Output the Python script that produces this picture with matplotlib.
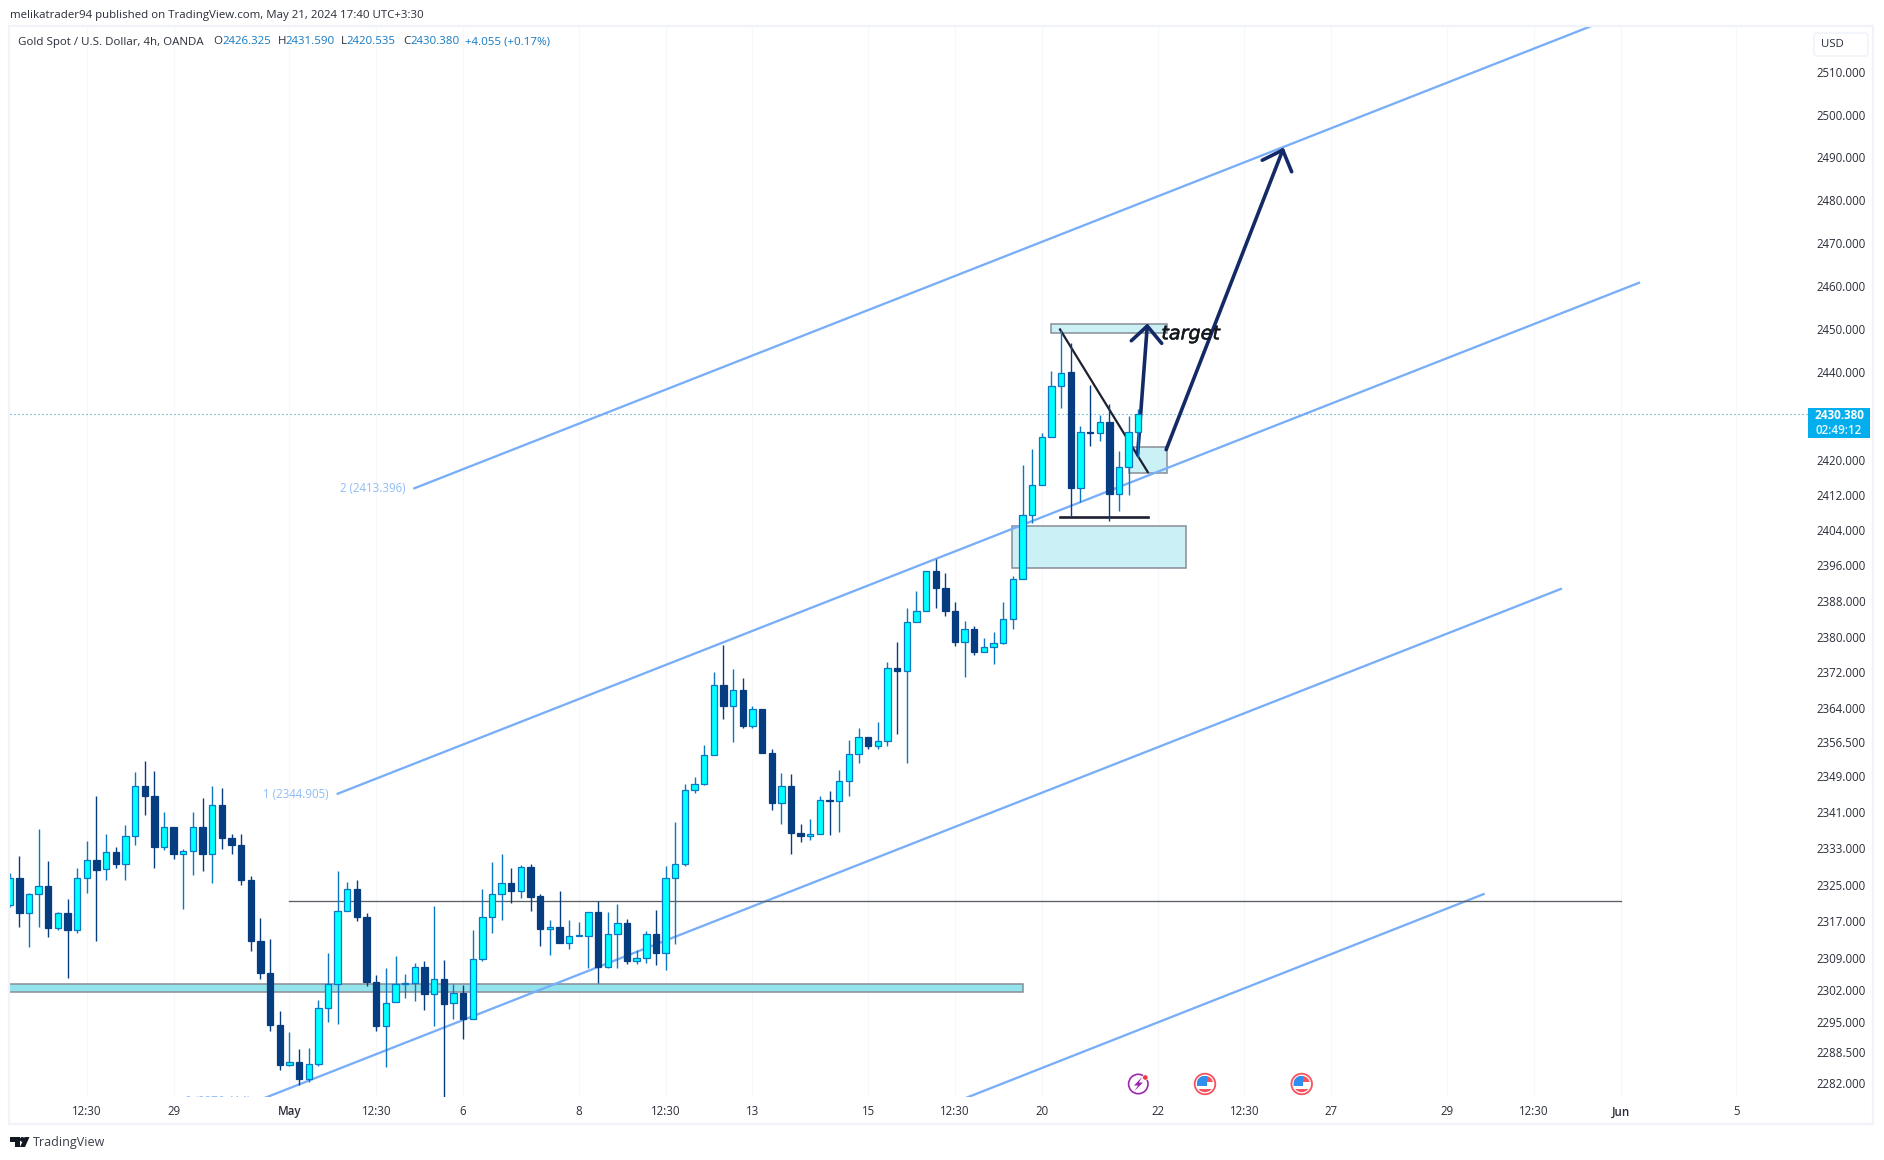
import matplotlib
matplotlib.use("Agg")
import matplotlib.pyplot as plt
import matplotlib.patheffects as pe
from matplotlib.patches import Rectangle, Circle, Polygon, FancyBboxPatch
from matplotlib.ticker import NullLocator

plt.rcParams['font.family'] = ['Open Sans', 'DejaVu Sans']

# ---------- candle data (4h bars, XAUUSD) ----------
opens = [2320.6,2326.4,2318.7,2322.9,2324.7,2315.4,2318.8,2315.0,2326.4,2330.4,
 2328.4,2332.2,2329.4,2335.7,2346.7,2344.5,2333.3,2337.7,2331.7,2332.4,
 2337.7,2331.7,2342.5,2335.3,2333.7,2326.0,2312.7,2305.8,2294.4,2285.7,
 2286.4,2282.7,2286.0,2298.0,2303.3,2319.2,2324.0,2317.9,2303.8,2294.3,
 2299.3,2303.3,2303.5,2307.1,2301.2,2304.5,2299.1,2301.4,2295.8,2308.7,
 2317.9,2323.0,2325.4,2323.6,2328.9,2322.4,2315.3,2315.8,2312.2,2313.7,
 2313.8,2319.0,2307.0,2314.2,2316.6,2308.4,2309.0,2314.2,2310.1,2326.5,
 2329.5,2345.9,2347.2,2353.6,2369.2,2364.4,2368.1,2360.0,2363.9,2354.1,
 2343.0,2346.8,2336.3,2335.6,2336.1,2343.6,2343.4,2347.9,2353.9,2357.6,
 2355.5,2356.7,2373.0,2372.3,2383.3,2385.8,2394.8,2391.0,2385.8,2378.8,
 2381.8,2376.5,2377.7,2378.6,2384.0,2393.0,2407.5,2414.3,2425.2,2436.9,
 2440.0,2413.6,2426.4,2426.2,2428.7,2412.2,2418.4,2426.325]
highs = [2327.5,2331.2,2323.1,2337.1,2330.2,2319.1,2321.8,2328.7,2334.5,2344.6,
 2336.2,2333.2,2338.0,2349.9,2352.3,2350.1,2341.0,2337.7,2332.9,2341.0,
 2344.1,2346.6,2346.3,2336.0,2336.0,2326.8,2317.7,2313.0,2297.4,2293.0,
 2289.3,2289.5,2299.8,2310.1,2328.0,2325.6,2326.1,2318.8,2305.2,2306.7,
 2309.3,2305.4,2307.8,2308.4,2320.4,2308.6,2303.2,2303.0,2315.1,2324.0,
 2330.0,2331.8,2328.7,2329.2,2329.6,2323.0,2317.2,2323.5,2317.2,2316.7,
 2319.0,2321.3,2318.9,2320.8,2317.4,2310.6,2314.9,2319.5,2329.0,2338.7,
 2347.1,2348.8,2355.7,2372.0,2378.2,2372.8,2370.8,2364.4,2363.9,2354.8,
 2349.5,2349.3,2338.2,2339.5,2344.5,2345.7,2350.2,2356.8,2359.5,2357.6,
 2360.8,2374.2,2378.7,2386.5,2390.2,2394.8,2397.4,2394.2,2387.7,2383.6,
 2382.3,2379.6,2381.0,2387.7,2393.7,2418.9,2422.5,2426.2,2440.4,2449.8,
 2446.8,2427.7,2437.2,2430.2,2432.8,2421.9,2429.9,2431.59]
lows = [2320.0,2315.8,2311.4,2315.8,2313.5,2315.1,2304.7,2314.3,2323.1,2312.6,
 2326.1,2328.6,2326.1,2333.6,2340.4,2328.6,2332.6,2330.6,2319.6,2327.2,
 2328.0,2325.3,2332.8,2331.6,2324.8,2310.4,2304.4,2293.1,2284.8,2285.5,
 2281.4,2282.1,2285.5,2295.0,2294.7,2319.2,2317.1,2302.8,2293.2,2285.3,
 2299.3,2300.2,2299.6,2297.6,2294.3,2278.5,2295.8,2291.5,2295.8,2308.4,
 2314.3,2317.3,2320.9,2322.0,2319.3,2311.5,2309.7,2312.2,2310.9,2313.7,
 2306.7,2303.6,2306.8,2306.8,2307.6,2307.6,2307.9,2307.4,2306.3,2311.9,
 2329.0,2345.2,2346.9,2353.6,2361.6,2356.4,2359.6,2359.6,2354.0,2341.3,
 2338.3,2331.8,2334.3,2334.7,2336.1,2335.8,2336.5,2344.6,2351.8,2354.9,
 2354.9,2355.5,2358.2,2351.8,2383.3,2385.8,2386.4,2384.6,2377.8,2370.9,
 2375.8,2376.5,2373.8,2378.3,2381.7,2393.0,2405.5,2414.3,2425.2,2431.8,
 2407.1,2410.3,2423.1,2424.2,2406.0,2408.4,2411.9,2420.535]
closes = [2326.4,2318.7,2322.9,2324.7,2315.4,2318.8,2315.0,2326.4,2330.4,2328.3,
 2332.2,2329.4,2335.7,2346.7,2344.4,2333.2,2337.7,2331.7,2332.4,2337.7,
 2331.7,2342.5,2335.2,2333.7,2325.9,2312.6,2305.7,2294.4,2285.7,2286.4,
 2282.7,2286.0,2298.0,2303.3,2319.2,2324.0,2317.8,2303.7,2294.2,2299.2,
 2303.3,2303.6,2307.1,2301.1,2304.5,2299.0,2301.4,2295.7,2308.7,2317.8,
 2322.9,2325.4,2323.5,2328.9,2322.2,2315.3,2315.8,2312.2,2313.8,2313.9,
 2319.0,2307.0,2314.2,2316.6,2308.4,2309.0,2314.2,2310.0,2326.5,2329.5,
 2345.9,2347.2,2353.6,2369.2,2364.4,2368.1,2360.0,2363.9,2354.0,2342.9,
 2346.8,2336.3,2335.6,2336.1,2343.6,2343.3,2347.9,2353.9,2357.6,2355.5,
 2356.7,2373.0,2372.3,2383.2,2385.8,2394.8,2391.0,2385.8,2378.8,2381.8,
 2376.5,2377.7,2378.6,2384.0,2393.0,2407.5,2414.3,2425.2,2436.9,2439.9,
 2413.5,2426.3,2426.2,2428.6,2412.1,2418.4,2426.3,2430.38]

# ---------- axis labels ----------
price_ticks = [2510,2500,2490,2480,2470,2460,2450,2440,2420,2412,2404,2396,2388,2380,
               2372,2364,2356.5,2349,2341,2333,2325,2317,2309,2302,2295,2288.5,2282]
time_ticks = [8,17,29,38,47,59,68,77,89,98,107,119,128,137,149,158,167,179]
time_labels = ['12:30','29','May','12:30','6','8','12:30','13','15','12:30','20','22',
               '12:30','27','29','12:30','Jun','5']
last_price = 2430.38

# ---------- drawings, in (bar index, price) ----------
chan_top_x, chan_top_y = [41.84,164.87], [2413.396,2521.8]
chan_up_x, chan_up_y = [33.90,169.02], [2344.905,2460.8]
chan_low_x, chan_low_y = [25.95,160.92], [2278.3,2390.8]
chan_ext_x, chan_ext_y = [98.52,152.91], [2278.2,2323.0]
hline_x, hline_y = [28.96,167.02], [2321.4,2321.4]
band_x, band_y = (-1,105.05), (2301.5,2303.3)
zone_top_x, zone_top_y = (107.98,119.99), (2449.1,2451.1)
zone_small_x, zone_small_y = (116.04,119.99), (2417.0,2423.0)
zone_big_x, zone_big_y = (103.95,121.99), (2395.4,2405.0)
diag_x, diag_y = [108.89,117.98], [2449.9,2417.2]
floor_x, floor_y = [108.89,117.98], [2406.9,2406.9]
arrow1_x, arrow1_y = [116.93,117.93], [2421.1,2450.7]
head1_x, head1_y = [116.28,117.93,119.43], [2447.3,2450.7,2446.7]
arrow2_x, arrow2_y = [119.89,131.98], [2422.3,2491.7]
head2_x, head2_y = [129.85,131.98,132.9], [2489.3,2491.7,2486.6]

UP, UP_EDGE, DOWN = '#00ffff', '#0a77c4', '#053d80'
BLUE, ZONE, ZONE_EDGE, NAVY = '#78aef8', '#cbf0f5', '#868e96', '#142a66'
TXT, VAL = '#2a2e39', '#1479c2'

W, H = 1884, 1160
fig = plt.figure(figsize=(W/100, H/100), dpi=100, facecolor='white')
L, R, T, B = 10, 1808, 26, 1097
ax = fig.add_axes([L/W, 1-B/H, (R-L)/W, (B-T)/H])
ax.set_yscale('log')
ax.set_xlim(0.033, 186.43)
ax.set_ylim(2278.9, 2521.0)
for s in ax.spines.values():
    s.set_visible(False)
ax.yaxis.tick_right()
ax.yaxis.set_minor_locator(NullLocator())
ax.set_yticks(price_ticks)
ax.set_yticklabels([f'{p:.3f}' for p in price_ticks], fontsize=8.3, color=TXT)
ax.set_xticks(time_ticks)
ax.set_xticklabels(time_labels, fontsize=8.3, color=TXT)
for lab in ax.get_xticklabels():
    if lab.get_text() in ('May', 'Jun'):
        lab.set_fontweight('semibold')
ax.tick_params(axis='y', length=0, pad=5.8)
ax.tick_params(axis='x', length=0, pad=6.0)
ax.grid(axis='x', color='#f6f7fb', lw=0.8, zorder=0)
ax.set_axisbelow(True)

# zones and lines (under the candles)
def zone(xs, ys, fc, z=2):
    ax.add_patch(Rectangle((xs[0], ys[0]), xs[1]-xs[0], ys[1]-ys[0], fc=fc, ec=ZONE_EDGE, lw=1.1, zorder=z))
zone(band_x, band_y, '#92e3ec')
zone(zone_top_x, zone_top_y, ZONE)
zone(zone_small_x, zone_small_y, ZONE)
zone(zone_big_x, zone_big_y, ZONE)
for xs, ys in [(chan_top_x, chan_top_y), (chan_up_x, chan_up_y), (chan_low_x, chan_low_y), (chan_ext_x, chan_ext_y)]:
    ax.plot(xs, ys, color=BLUE, lw=1.65, zorder=3, solid_capstyle='butt')
ax.plot(hline_x, hline_y, color='#5d5f66', lw=0.95, zorder=3)
ax.axhline(last_price, color='#2aa0c8', lw=0.8, ls=(0, (1, 2.6)), zorder=2)
ax.plot(diag_x, diag_y, color='#1c2030', lw=1.6, zorder=3)
ax.plot(floor_x, floor_y, color='#1c2030', lw=1.9, zorder=3)
for xs, ys in [(arrow1_x, arrow1_y), (head1_x, head1_y), (arrow2_x, arrow2_y), (head2_x, head2_y)]:
    ax.plot(xs, ys, color=NAVY, lw=2.6, zorder=3, solid_capstyle='round', solid_joinstyle='round')

ax.text(41.0, chan_top_y[0], '2 (2413.396)', ha='right', va='center', fontsize=8.3, color='#8fbcf5', zorder=3)
ax.text(33.1, chan_up_y[0], '1 (2344.905)', ha='right', va='center', fontsize=8.3, color='#8fbcf5', zorder=3)
ax.text(25.0, 2277.9, '0 (2276.414)', ha='right', va='center', fontsize=8.3, color='#8fbcf5', zorder=3, clip_on=True)
ax.text(119.39, 2448.9, 'target', ha='left', va='center', fontsize=13.8, style='italic',
        family='DejaVu Sans', color='#14181f', zorder=6,
        path_effects=[pe.withStroke(linewidth=0.4, foreground='#14181f')])

# candles
for i, (o, h, l, c) in enumerate(zip(opens, highs, lows, closes)):
    up = c >= o
    ax.vlines(i, l, h, color=UP_EDGE if up else DOWN, lw=1.0, zorder=4)
    ax.bar(i, abs(c-o), bottom=min(o, c), width=0.66, color=UP if up else DOWN,
           edgecolor=UP_EDGE if up else DOWN, linewidth=0.9, zorder=5)

# ---------- page furniture, in pixels ----------
ov = fig.add_axes([0, 0, 1, 1], facecolor='none', zorder=10)
ov.set_xlim(0, W); ov.set_ylim(H, 0); ov.axis('off')
ov.add_patch(Rectangle((9, 26), 1864, 1098, fc='none', ec='#f0f3fa', lw=1.6))

ov.text(10.5, 15.5, 'melikatrader94 published on TradingView.com, May 21, 2024 17:40 UTC+3:30',
        fontsize=8.27, color=TXT, va='center', ha='left')
ov.text(18.4, 42, 'Gold Spot / U.S. Dollar, 4h, OANDA', fontsize=8.25, color=TXT, va='center')
for x, s, c in [(213.5, 'O', TXT), (222, '2426.325', VAL), (277.5, 'H', TXT), (285.5, '2431.590', VAL),
                (340.6, 'L', TXT), (346.3, '2420.535', VAL), (403, 'C', TXT), (410.3, '2430.380', VAL),
                (465.4, '+4.055 (+0.17%)', VAL)]:
    ov.text(x, 42, s, fontsize=8.25, color=c, va='center')

ov.add_patch(FancyBboxPatch((1814, 33), 54, 23, boxstyle='round,pad=0,rounding_size=3', fc='white', ec='#f0f3fa', lw=1.2))
ov.text(1821, 44.5, 'USD', fontsize=8.2, color=TXT, va='center')

ov.add_patch(Rectangle((1808, 407.5), 62, 30.5, fc='#03aeee', ec='none'))
ov.text(1815, 415.5, f'{last_price:.3f}', fontsize=8.5, color='white', weight='bold', va='center')
ov.text(1815.5, 430, '02:49:12', fontsize=8.4, color='#e8f8ff', weight='semibold', va='center')

# TradingView logo
ov.add_patch(Polygon([(10, 1137), (20, 1137), (20, 1147), (15, 1147), (15, 1142), (10, 1142)], fc='#131722', ec='none'))
ov.add_patch(Circle((22.3, 1139.4), 2.4, fc='#131722', ec='none'))
ov.add_patch(Polygon([(29.5, 1137), (25, 1147), (20, 1147), (24.6, 1137)], fc='#131722', ec='none'))
ov.text(33, 1142.5, 'TradingView', fontsize=9.0, color='#3a3e48', va='center')

# event markers
c = Circle((1138.3, 1084), 9.7, fc='white', ec='#9c27b0', lw=1.2)
ov.add_patch(c)
ov.add_patch(Polygon([(1142, 1077), (1134, 1085.5), (1138, 1085.5), (1134.5, 1091), (1143, 1082.5), (1139, 1082.5)], fc='#9c27b0', ec='none'))
ov.add_patch(Circle((1145.3, 1077.5), 2.7, fc='#f23645', ec='white', lw=0.5))
for cx in (1205, 1301.7):
    ring = Circle((cx, 1084), 10.3, fc='white', ec='#f7525f', lw=1.3)
    ov.add_patch(ring)
    clip = Circle((cx, 1084), 8.2, transform=ov.transData)
    for y0, h0, x0, w0, col in [(1076, 6, cx-8.5, 17, '#f7525f'), (1086, 4, cx-8.5, 17, 'white'),
                                (1088.5, 4, cx-8.5, 17, '#f7525f'), (1076, 10, cx-8.5, 10, '#2f8ff0')]:
        r = Rectangle((x0, y0), w0, h0, fc=col, ec='none')
        ov.add_patch(r)
        r.set_clip_path(clip)

fig.savefig('out.png', dpi=100)
